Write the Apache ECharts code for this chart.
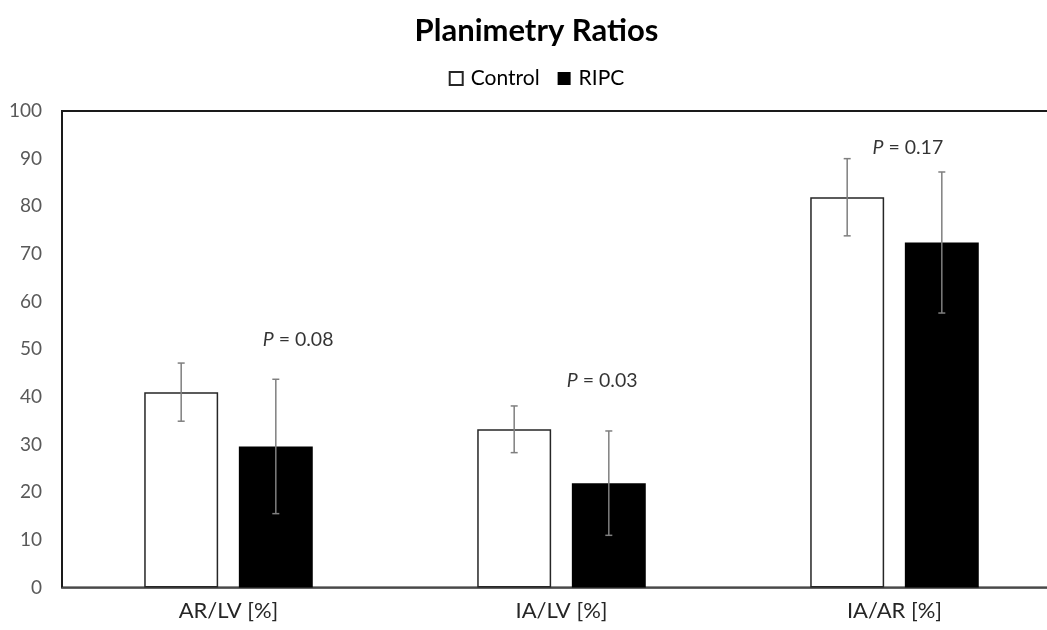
<!DOCTYPE html>
<html>
<head>
<meta charset="utf-8">
<script src="https://cdn.jsdelivr.net/npm/echarts@6/dist/echarts.min.js"></script>
<style>
html,body{margin:0;padding:0;overflow:hidden;background:#fff;}
#chart{width:1073px;height:630px;}
</style>
</head>
<body>
<div id="chart"></div>
<script>
const categories = ['AR/LV [%]', 'IA/LV [%]', 'IA/AR [%]'];
const controlMean = [41.0, 33.2, 81.9];
const controlErr = [6.1, 4.9, 8.1];
const ripcMean = [29.6, 21.9, 72.4];
const ripcErr = [14.1, 10.95, 14.8];
const yTicks = [0, 10, 20, 30, 40, 50, 60, 70, 80, 90, 100];
const pLabels = ['0.08', '0.03', '0.17'];
const pX = [0.709, 1.622, 2.54];
const pY = [51.9, 43.3, 92.2];

const FONT = 'Lato';
const BAR_W = 0.222, BAR_GAP = 0.28;
const OFF = BAR_W * (1 + BAR_GAP) / 2;

const errData = [];
categories.forEach((c, i) => {
  errData.push([i, controlMean[i], controlErr[i], -1]);
  errData.push([i, ripcMean[i], ripcErr[i], 1]);
});

const chart = echarts.init(document.getElementById('chart'));
chart.setOption({
  animation: false,
  textStyle: { fontFamily: FONT },
  title: {
    text: 'Planimetry Ratios', left: 'center', top: 10,
    textStyle: { fontFamily: FONT, fontSize: 31, fontWeight: 'bold', color: '#000' }
  },
  legend: {
    data: ['Control', 'RIPC'], left: 'center', top: 63,
    icon: 'rect', itemWidth: 13, itemHeight: 13, itemGap: 18,
    textStyle: { fontFamily: FONT, fontSize: 21, color: '#000', padding: [0, 0, 0, 3] }
  },
  grid: {
    left: 62, top: 111, width: 999, bottom: 42.5,
    show: true, borderColor: '#1a1a1a', borderWidth: 2, backgroundColor: 'transparent'
  },
  xAxis: [{
    type: 'category', data: categories,
    axisLine: { lineStyle: { color: '#595959', width: 1.5 } },
    axisTick: { show: false },
    axisLabel: { fontFamily: FONT, fontSize: 22, color: '#262626', margin: 12 }
  }, {
    type: 'value', min: 0, max: 3, show: false
  }],
  yAxis: {
    type: 'value', min: 0, max: 100, interval: 10,
    splitLine: { show: false },
    axisLine: { show: false }, axisTick: { show: false },
    axisLabel: { fontFamily: FONT, fontSize: 19, color: '#595959', margin: 20,
      formatter: v => yTicks.includes(v) ? String(v) : '' }
  },
  series: [{
    name: 'Control', type: 'bar', data: controlMean,
    barWidth: (BAR_W * 100) + '%', barGap: (BAR_GAP * 100) + '%',
    itemStyle: { color: '#fff', borderColor: '#262626', borderWidth: 1.5 }
  }, {
    name: 'RIPC', type: 'bar', data: ripcMean,
    barWidth: (BAR_W * 100) + '%',
    itemStyle: { color: '#000', borderColor: '#000', borderWidth: 0 }
  }, {
    name: 'err', type: 'custom', data: errData, z: 5,
    renderItem: function (params, api) {
      const cat = api.value(0), m = api.value(1), e = api.value(2), side = api.value(3);
      const band = api.size([1, 0])[0];
      const top = api.coord([cat, m + e]);
      const bot = api.coord([cat, m - e]);
      const x = top[0] + side * band * OFF;
      const cap = 3.5;
      const st = { stroke: '#7f7f7f', lineWidth: 1.5 };
      return { type: 'group', children: [
        { type: 'line', shape: { x1: x, y1: top[1], x2: x, y2: bot[1] }, style: st },
        { type: 'line', shape: { x1: x - cap, y1: top[1], x2: x + cap, y2: top[1] }, style: st },
        { type: 'line', shape: { x1: x - cap, y1: bot[1], x2: x + cap, y2: bot[1] }, style: st }
      ]};
    }
  }, {
    name: 'p', type: 'scatter', xAxisIndex: 1, symbolSize: 0,
    data: pX.map((x, i) => [x, pY[i]]),
    label: {
      show: true, position: 'inside',
      formatter: p => '{i|P} = ' + pLabels[p.dataIndex],
      fontFamily: FONT, fontSize: 19.5, color: '#000',
      rich: { i: { fontStyle: 'italic', fontFamily: FONT, fontSize: 19.5, color: '#000' } }
    }
  }]
});
</script>
</body>
</html>
